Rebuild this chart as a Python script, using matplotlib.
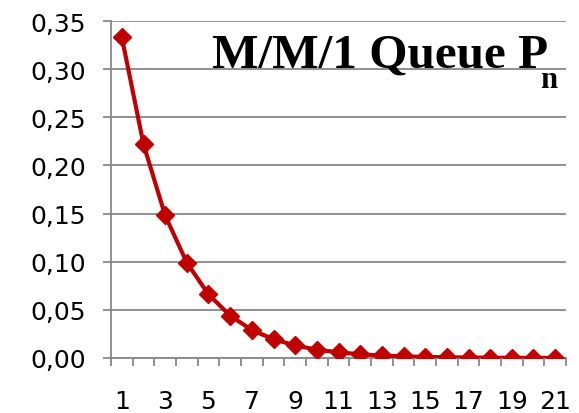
import matplotlib
matplotlib.use("Agg")
import matplotlib.pyplot as plt
from matplotlib.ticker import FixedLocator, FuncFormatter

plt.rcParams["font.family"] = ["DejaVu Sans"]

# Data
n_values = list(range(1, 22))
p_values = [0.333, 0.222, 0.148, 0.099, 0.066, 0.044, 0.029, 0.0195, 0.013,
            0.0087, 0.0058, 0.0039, 0.0026, 0.0017, 0.0011, 0.0008, 0.0005,
            0.0003, 0.0002, 0.00015, 0.0001]
y_ticks = [0.00, 0.05, 0.10, 0.15, 0.20, 0.25, 0.30, 0.35]
x_label_ticks = [1, 3, 5, 7, 9, 11, 13, 15, 17, 19, 21]
title_main = "M/M/1 Queue P"
title_sub = "n"

fig = plt.figure(figsize=(5.79, 4.14), dpi=100)
ax = fig.add_axes([111/579, 1-359/414, (566-111)/579, (359-22)/414])

grid_color = "#878787"
ax.plot(n_values, p_values, color="#C00000", lw=3, marker="D", markersize=9,
        markeredgecolor="#C00000", markerfacecolor="#C00000", zorder=3)

ax.set_xlim(0.5, 21.5)
ax.set_ylim(0, 0.35)
ax.set_yticks(y_ticks)
ax.yaxis.set_major_formatter(FuncFormatter(lambda v, p: f"{v:.2f}".replace(".", ",")))
ax.grid(axis="y", color=grid_color, lw=1.3)
ax.set_axisbelow(True)

# x: major ticks at category boundaries, labels at centers
ax.xaxis.set_major_locator(FixedLocator([i + 0.5 for i in range(0, 22)]))
ax.xaxis.set_major_formatter(FuncFormatter(lambda v, p: ""))
ax.xaxis.set_minor_locator(FixedLocator(x_label_ticks))
ax.xaxis.set_minor_formatter(FuncFormatter(lambda v, p: f"{int(round(v))}"))
ax.tick_params(axis="x", which="major", length=6, width=1.3, color=grid_color, direction="out")
ax.tick_params(axis="x", which="minor", length=0, pad=22, labelsize=18)
ax.tick_params(axis="y", which="major", length=6, width=1.3, color=grid_color, direction="out",
               pad=12, labelsize=18)

for s in ["top", "right"]:
    ax.spines[s].set_visible(False)
for s in ["left", "bottom"]:
    ax.spines[s].set_color(grid_color)
    ax.spines[s].set_linewidth(1.3)

t1 = fig.text(212/579, 1-68/414, title_main, family="Liberation Serif", weight="bold",
              fontsize=35.5, ha="left", va="baseline")
ax.annotate(title_sub, xy=(1, 0), xycoords=t1, xytext=(-6, -7), textcoords="offset points",
            family="Liberation Serif", weight="bold", fontsize=22, ha="left", va="baseline")

fig.savefig("out.png", dpi=100, facecolor="white")
